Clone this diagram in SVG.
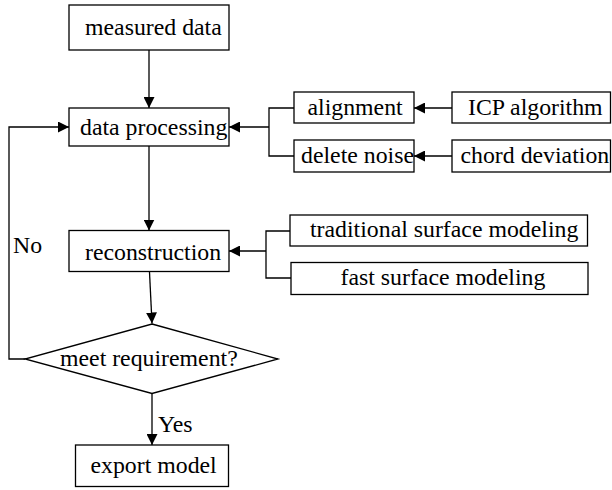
<svg xmlns="http://www.w3.org/2000/svg" width="612" height="490" viewBox="0 0 612 490">
<defs>
<marker id="ah" viewBox="0 0 10 10" refX="10" refY="5" markerWidth="11" markerHeight="11" markerUnits="userSpaceOnUse" orient="auto">
<path d="M0,0 L10,5 L0,10 Z" fill="#000"/>
</marker>
</defs>
<style>
rect, polygon { fill: #fff; stroke: #000; stroke-width: 1.3; }
text { font-family: "Liberation Serif", "Times New Roman", serif; font-size: 23.8px; fill: #000; }
.c { fill: none; stroke: #000; stroke-width: 1.3; }
.a { marker-end: url(#ah); }
</style>
<g id="connectors">
<path class="c a" d="M149,50 V108"/>
<path class="c a" d="M149,146 V230.5"/>
<path class="c a" d="M149.5,272 L152,323.5"/>
<path class="c a" d="M152,393.5 V445"/>
<path class="c a" d="M25,359 H9 V127 H69"/>
<path class="c a" d="M269,127 H229"/>
<path class="c" d="M294,108 H269 V156 H294"/>
<path class="c a" d="M452,108 H414"/>
<path class="c a" d="M452,156 H414"/>
<path class="c a" d="M266,251 H229"/>
<path class="c" d="M290,231 H266 V278 H291"/>
</g>
<g id="measured-data"><rect x="69" y="5" width="160" height="45"/><text x="85" y="35">measured data</text></g>
<g id="data-processing"><rect x="69" y="108" width="160" height="38"/><text x="80" y="135">data processing</text></g>
<g id="alignment"><rect x="294" y="92" width="120" height="31"/><text x="307.5" y="114.5">alignment</text></g>
<g id="delete-noise"><rect x="294" y="140" width="120" height="32"/><text x="301" y="163">delete noise</text></g>
<g id="icp-algorithm"><rect x="452" y="92" width="158.5" height="31"/><text x="468" y="114.5">ICP algorithm</text></g>
<g id="chord-deviation"><rect x="452" y="140" width="158.5" height="32"/><text x="460.5" y="163">chord deviation</text></g>
<g id="reconstruction"><rect x="69" y="230.5" width="160" height="41"/><text x="85" y="259.5">reconstruction</text></g>
<g id="traditional-surface-modeling"><rect x="290" y="215" width="297.5" height="31"/><text x="310" y="236.5">traditional surface modeling</text></g>
<g id="fast-surface-modeling"><rect x="291" y="262.5" width="297" height="32"/><text x="340.5" y="285">fast surface modeling</text></g>
<g id="meet-requirement"><polygon points="152,324 278,359 152,393.5 25,359"/><text x="60" y="366">meet requirement?</text></g>
<g id="export-model"><rect x="75.5" y="445" width="153" height="41.5"/><text x="90.5" y="473">export model</text></g>
<g id="labels"><text x="13" y="253">No</text><text x="158" y="432">Yes</text></g>
</svg>
